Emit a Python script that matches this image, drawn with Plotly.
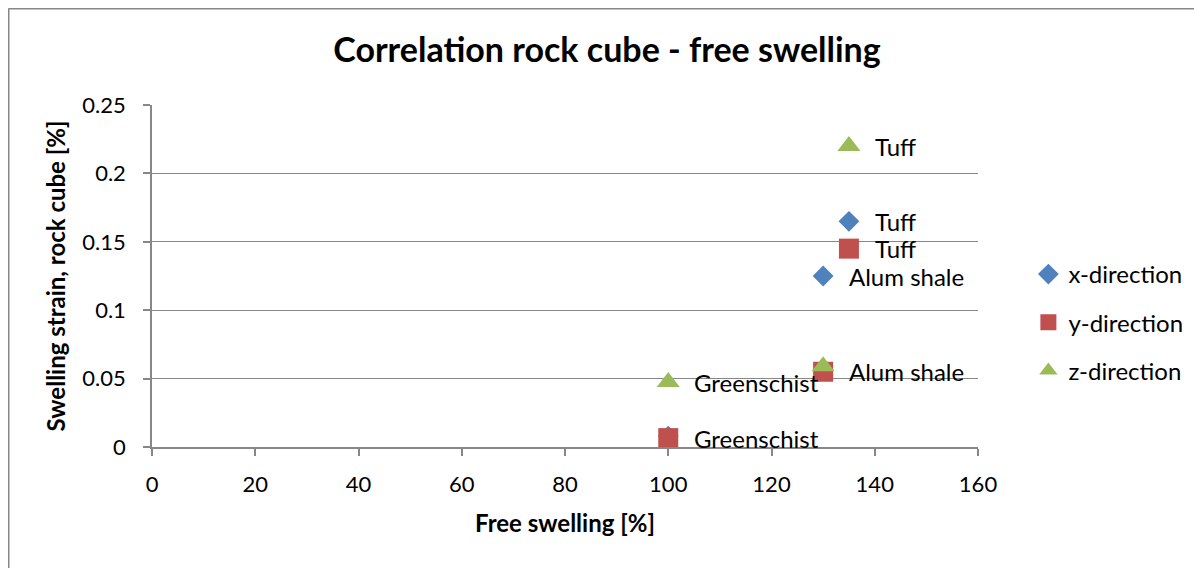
import plotly.graph_objects as go

# Data
free_swelling = [135, 130, 100]          # Tuff, Alum shale, Greenschist
x_direction = [0.165, 0.125, 0.008]
y_direction = [0.145, 0.055, 0.0065]
z_direction = [0.220, 0.059, 0.0475]
x_labels = ["Tuff", "Alum shale", ""]
y_labels = ["Tuff", "Alum shale", "Greenschist"]
z_labels = ["Tuff", "", "Greenschist"]
series_names = ["x-direction", "y-direction", "z-direction"]

FONT = "Lato"
GRAY = "#878787"

W, H = 1194, 560  # page body has an 8px margin
L, T = 144, 97
PW, PH = 826, 342

fig = go.Figure()
specs = [
    (x_direction, x_labels, "diamond", "#4F81BD", 16),
    (y_direction, y_labels, "square", "#C0504D", 20),
    (z_direction, z_labels, "triangle-up", "#9BBB59", 20),
]
for i, (vals, labs, sym, col, sz) in enumerate(specs):
    fig.add_trace(go.Scatter(
        x=free_swelling, y=vals, mode="markers", name=series_names[i],
        legendgroup=series_names[i],
        marker=dict(symbol=sym, color=col, size=sz, line=dict(width=0)),
    ))
    for xv, yv, lab in zip(free_swelling, vals, labs):
        if lab:
            fig.add_annotation(x=xv, y=yv, text=lab, showarrow=False,
                               xanchor="left", yanchor="middle", xshift=24,
                               font=dict(family=FONT, size=24, color="black"))

fig.update_layout(
    width=W, height=H,
    margin=dict(l=L, r=W - L - PW, t=T, b=H - T - PH),
    paper_bgcolor="white", plot_bgcolor="white",
    font=dict(family=FONT, size=22, color="black"),
    title=dict(text="<b>Correlation rock cube - free swelling</b>",
               x=(607 - 8) / W, xanchor="center", y=1 - 42 / H, yanchor="middle",
               font=dict(family=FONT, size=34, color="black")),
    legend=dict(x=1.061, xanchor="left", y=(T + PH - 244) / PH, yanchor="top",
                font=dict(family=FONT, size=24, color="black"),
                tracegroupgap=14, itemwidth=30, bgcolor="rgba(0,0,0,0)"),
    showlegend=True,
)
fig.update_xaxes(
    range=[0, 160], dtick=20, tick0=0, showgrid=False, zeroline=False,
    showline=True, linecolor=GRAY, linewidth=1.5,
    ticks="outside", ticklen=7, tickcolor=GRAY, tickwidth=1.5,
    ticklabelstandoff=10, tickfont=dict(size=22),
    title=dict(text="<b>Free swelling [%]</b>", font=dict(family=FONT, size=24), standoff=19),
)
fig.update_yaxes(
    range=[0, 0.25], dtick=0.05, tick0=0, showgrid=True, gridcolor=GRAY, gridwidth=1,
    zeroline=False, showline=True, linecolor=GRAY, linewidth=1.5,
    ticks="outside", ticklen=7, tickcolor=GRAY, tickwidth=1.5,
    ticklabelstandoff=13, tickfont=dict(size=22),
    title=dict(text="<b>Swelling strain, rock cube [%]</b>", font=dict(family=FONT, size=24), standoff=10),
)

# chart frame (cropped at the left and top)
fx = (0.5 - L) / PW
fy = (T + PH - 0.5) / PH
fig.add_shape(type="line", xref="paper", yref="paper", x0=fx, x1=1.4, y0=fy, y1=fy,
              line=dict(color=GRAY, width=2))
fig.add_shape(type="line", xref="paper", yref="paper", x0=fx, x1=fx, y0=-0.5, y1=fy,
              line=dict(color=GRAY, width=2))

fig.write_html("out.html")
